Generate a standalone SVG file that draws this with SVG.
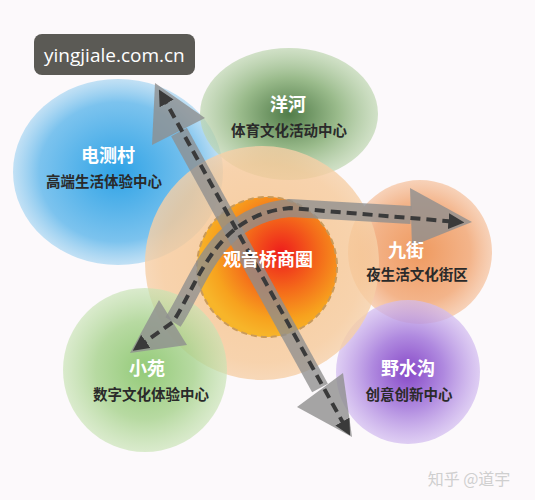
<svg xmlns="http://www.w3.org/2000/svg" width="535" height="500" viewBox="0 0 535 500">
<defs>
<style>
.t1{font-family:"Noto Sans CJK SC","Noto Sans",sans-serif;font-weight:bold;font-size:18px;fill:#ffffff;text-anchor:middle}
.t2{font-family:"Noto Sans CJK SC","Noto Sans",sans-serif;font-weight:bold;font-size:14.5px;fill:#2a2a2a;text-anchor:middle}
.band{fill:none;stroke:#8e8e8e;stroke-opacity:0.78;stroke-width:18}
.head{fill:#8e8e8e;fill-opacity:0.8}
.dash{fill:none;stroke:#3a3a3a;stroke-width:4;stroke-dasharray:10 6;marker-start:url(#tip);marker-end:url(#tip)}
</style>
<marker id="tip" viewBox="0 0 10 10" refX="6" refY="5" markerWidth="4" markerHeight="4" orient="auto-start-reverse" markerUnits="strokeWidth">
<path d="M0,0 L10,5 L0,10 z" fill="#3a3a3a"/>
</marker>
<radialGradient id="gBlue"><stop offset="0" stop-color="#2fa3e6"/><stop offset="0.75" stop-color="#7cc3ee"/><stop offset="1" stop-color="#a9d6f2" stop-opacity="0.7"/></radialGradient>
<radialGradient id="gGreenT"><stop offset="0" stop-color="#3e6e35"/><stop offset="0.55" stop-color="#8fb47f"/><stop offset="1" stop-color="#bcd5ae" stop-opacity="0.75"/></radialGradient>
<radialGradient id="gPeach"><stop offset="0" stop-color="#f5bf84"/><stop offset="0.85" stop-color="#f6c999"/><stop offset="1" stop-color="#f6d0a8"/></radialGradient>
<radialGradient id="gCore" cx="0.6" cy="0.4" r="0.6"><stop offset="0" stop-color="#ee1c1c"/><stop offset="0.45" stop-color="#f46a1a"/><stop offset="0.8" stop-color="#f7a21e"/><stop offset="1" stop-color="#f7b52a"/></radialGradient>
<radialGradient id="gOrange"><stop offset="0" stop-color="#ef9a60"/><stop offset="0.7" stop-color="#f3b48a"/><stop offset="1" stop-color="#f6c8a8" stop-opacity="0.8"/></radialGradient>
<radialGradient id="gPurple"><stop offset="0" stop-color="#7a35c2"/><stop offset="0.5" stop-color="#a77ddc"/><stop offset="1" stop-color="#d3bdf0" stop-opacity="0.8"/></radialGradient>
<radialGradient id="gGreenB"><stop offset="0" stop-color="#7dc05c"/><stop offset="0.6" stop-color="#a8d38e"/><stop offset="1" stop-color="#c8e3b4" stop-opacity="0.8"/></radialGradient>
</defs>
<rect width="535" height="500" fill="#fcf9fb"/>
<g id="dianceun"><ellipse cx="118" cy="172" rx="105" ry="93" fill="url(#gBlue)"/></g>
<g id="yanghe"><ellipse cx="289" cy="114" rx="89" ry="66" fill="url(#gGreenT)" opacity="0.9"/></g>
<g id="jiujie"><circle cx="420" cy="252" r="72" fill="url(#gOrange)"/></g>
<g id="yeshuigou"><circle cx="408" cy="372" r="72" fill="url(#gPurple)" opacity="0.9"/></g>
<g id="guanyinqiao">
<circle cx="262" cy="263" r="117" fill="url(#gPeach)" opacity="0.8"/>
<circle cx="267" cy="267" r="70" fill="url(#gCore)" stroke="#c99a5a" stroke-width="2" stroke-dasharray="6 4"/>
</g>
<g id="xiaoyuan"><circle cx="145" cy="370" r="82" fill="url(#gGreenB)" opacity="0.82"/></g>
<g id="connectors">
<path class="band" d="M179,132 L320,388"/>
<polygon class="head" points="155,83 152,145 205,118"/>
<polygon class="head" points="352,437 297,407 343,373"/>
<path class="band" d="M173,322 C200,280 215,215 290,208 L411,215"/>
<polygon class="head" points="472,222 410,188 412,246"/>
<polygon class="head" points="130,353 159,300 187,345"/>
<path class="dash" d="M162,95 L347,430"/>
<path class="dash" d="M138,347 L173,322 C200,280 215,215 290,208 L458,222"/>
</g>
<g id="labels">
<text class="t1" x="288" y="111">洋河</text>
<text class="t2" x="289" y="136">体育文化活动中心</text>
<text class="t1" x="108" y="162">电测村</text>
<text class="t2" x="104" y="187">高端生活体验中心</text>
<text class="t1" x="268" y="266">观音桥商圈</text>
<text class="t1" x="406" y="257">九街</text>
<text class="t2" x="417" y="280">夜生活文化街区</text>
<text class="t1" x="147" y="375">小苑</text>
<text class="t2" x="151" y="400">数字文化体验中心</text>
<text class="t1" x="408" y="375">野水沟</text>
<text class="t2" x="409" y="400">创意创新中心</text>
</g>
<g id="watermark">
<rect x="34" y="34" width="161" height="41" rx="8" fill="#5b5a55"/>
<text x="44" y="62" font-family="'Open Sans','DejaVu Sans',sans-serif" font-size="19" fill="#ffffff">yingjiale.com.cn</text>
<text x="469" y="485" font-family="'Noto Sans CJK SC',sans-serif" font-size="16" fill="#cfcfcf" text-anchor="middle">知乎 @道宇</text>
</g>
</svg>
